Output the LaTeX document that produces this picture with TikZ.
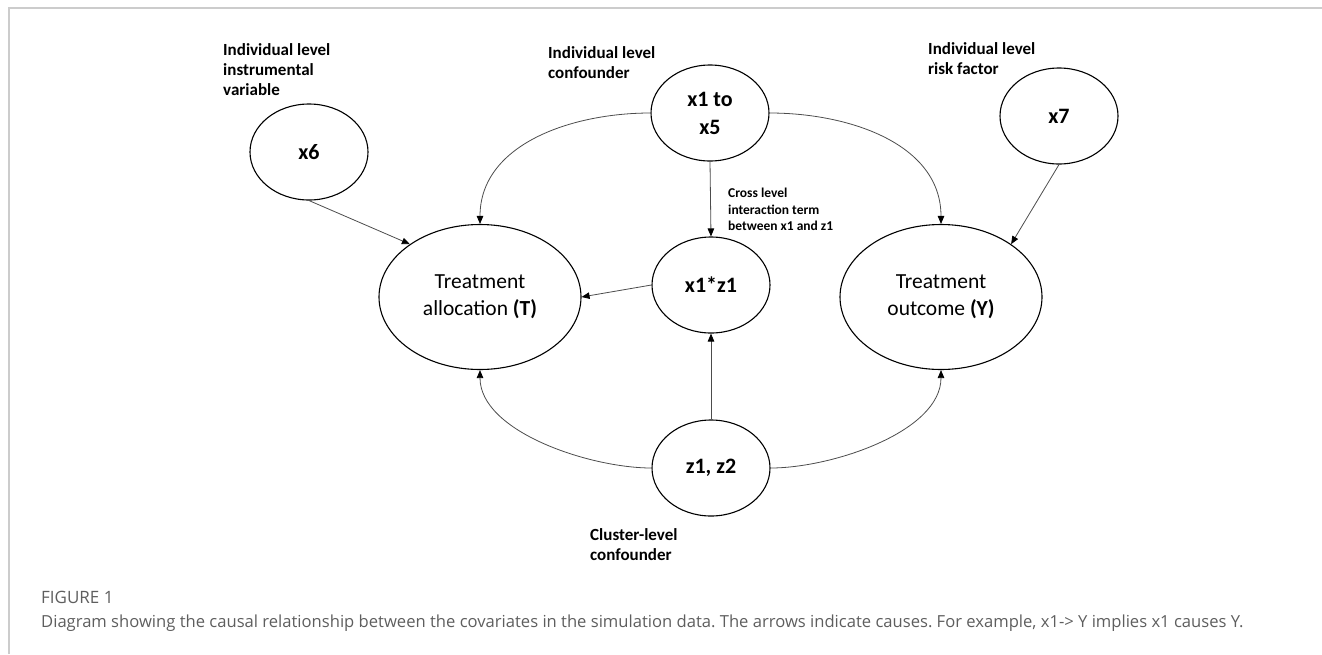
\documentclass[tikz,border=0pt]{standalone}
\usepackage{fontspec}
\setmainfont{Carlito}
\newfontfamily\capfont{Open Sans}
\usetikzlibrary{arrows.meta, shapes.geometric}
\definecolor{capgray}{HTML}{5E5E5E}
\definecolor{framegray}{HTML}{CCCCCC}
\frenchspacing

\begin{document}
\begin{tikzpicture}[x=1pt, y=1pt,
  var/.style={draw, ellipse, line width=1.1pt, inner sep=0pt, align=center,
    minimum width=118pt, minimum height=96pt, font=\fontsize{22}{28}\selectfont\bfseries},
  bigvar/.style={var, minimum width=202pt, minimum height=145pt, font=\fontsize{21.5}{27}\selectfont},
  note/.style={align=left, anchor=north west, inner sep=0pt, font=\fontsize{17}{20}\selectfont\bfseries},
  cause/.style={draw=black!70, line width=0.8pt, -{Triangle[length=8pt, width=6.5pt, color=black]}},
  capt/.style={anchor=base west, inner sep=0pt, text=capgray, font=\capfont\fontsize{16.6}{20}\selectfont}
]
\useasboundingbox (0,0) rectangle (1322,-654);

% frame
\draw[framegray, line width=1.5pt] (9,-654) -- (9,-8) -- (1322,-8);

% variables
\node[var] (x6) at (309,-152) {x6};
\node[var] (xconf) at (710,-113) {x1 to\\x5};
\node[var] (x7) at (1059,-116) {x7};
\node[var] (xz) at (711,-285) {x1*z1};
\node[var] (zz) at (711,-468) {z1, z2};

% treatment and outcome
\node[bigvar] (T) at (480,-297) {Treatment\\allocation \textbf{(T)}};
\node[bigvar] (Y) at (941,-297) {Treatment\\outcome \textbf{(Y)}};

% labels
\node[note] (instlab) at (223,-43) {Individual level\\instrumental\\variable};
\node[note] (conflab) at (548,-46) {Individual level\\confounder};
\node[note] (risklab) at (928,-42) {Individual level\\risk factor};
\node[note, font=\fontsize{13.5}{16.5}\selectfont\bfseries] (crosslab) at (728,-188) {Cross level\\interaction term\\between x1 and z1};
\node[note] (clustlab) at (590,-528) {Cluster-level\\confounder};

% causes
\draw[cause] (x6.south) -- (T.143);
\draw[cause] (xconf.west) to[out=180, in=90] (T.north);
\draw[cause] (xconf.east) to[out=0, in=90] (Y.north);
\draw[cause] (xconf.south) -- (xz.north);
\draw[cause] (x7.south) -- (Y.37);
\draw[cause] (xz.west) -- (T.east);
\draw[cause] (zz.north) -- (xz.south);
\draw[cause] (zz.west) to[out=180, in=-90, looseness=0.8] (T.south);
\draw[cause] (zz.east) to[out=0, in=-90, looseness=0.8] (Y.south);

% caption
\node[capt, font=\capfont\fontsize{17}{20}\selectfont] (fignum) at (41,-603) {FIGURE 1};
\node[capt] (figtext) at (41,-627) {Diagram showing the causal relationship between the covariates in the simulation data. The arrows indicate causes. For example, x1-> Y implies x1 causes Y.};

\end{tikzpicture}
\end{document}
